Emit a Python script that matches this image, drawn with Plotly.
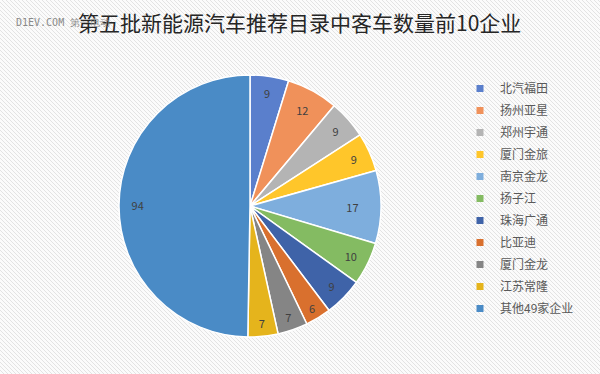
import plotly.graph_objects as go

labels = ["北汽福田", "扬州亚星", "郑州宇通", "厦门金旅", "南京金龙", "扬子江",
          "珠海广通", "比亚迪", "厦门金龙", "江苏常隆", "其他49家企业"]
values = [9, 12, 9, 9, 17, 10, 9, 6, 7, 7, 94]
colors = ["#5a7fcc", "#f0915a", "#b4b4b4", "#ffc62a", "#7eaedd", "#84bb62",
          "#3f63a8", "#d9702e", "#858585", "#e5b41c", "#4a8bc6"]

W, H = 600, 374
NB = "\u00a0"

# label text: the big slice label sits toward the outer edge as in the reference
texts = [str(v) for v in values]
texts[-1] = texts[-1] + NB * 38

fig = go.Figure()
fig.add_trace(go.Pie(
    labels=labels, values=values, sort=False, direction="clockwise", rotation=0,
    marker=dict(colors=colors, line=dict(color="white", width=1.5)),
    text=texts, textinfo="text", textposition="inside", insidetextorientation="horizontal",
    textfont=dict(size=11, color="#404040", family="Noto Sans CJK SC"),
    domain=dict(x=[(250 - 131) / W, (250 + 131) / W], y=[1 - 337 / H, 1 - 75 / H]),
    hoverinfo="label+value", showlegend=False,
))

# legend entries (one per slice, with group gaps to match spacing)
for i, (lab, col) in enumerate(zip(labels, colors)):
    fig.add_trace(go.Scatter(
        x=[None], y=[None], mode="markers", name=lab, legendgroup=f"g{i}",
        marker=dict(symbol="square", size=7, color=col), showlegend=True,
    ))

# diagonal hatch background
segs = []
step = 4
for k in range(-H, W + H, step):
    x0, y0 = k, 0
    x1, y1 = k + H, H
    segs.append(f"M{x0/W:.4f},{1 - y0/H:.4f}L{x1/W:.4f},{1 - y1/H:.4f}")
fig.add_shape(type="path", xref="paper", yref="paper", path="".join(segs),
              line=dict(color="#e3e3e3", width=1), layer="below")

fig.add_annotation(text="第五批新能源汽车推荐目录中客车数量前10企业", x=299 / W, y=1 - 22 / H,
                   xref="paper", yref="paper", showarrow=False, xanchor="center", yanchor="middle",
                   font=dict(size=21, color="#262626", family="Noto Sans CJK SC"))
fig.add_annotation(text="D1EV.COM 第一电动", x=14 / W, y=1 - 22 / H, xref="paper", yref="paper",
                   showarrow=False, xanchor="left", yanchor="middle",
                   font=dict(size=10, color="#8a8a8a", family="DejaVu Sans Mono"))

fig.update_layout(
    width=W, height=H, margin=dict(l=0, r=0, t=0, b=0),
    paper_bgcolor="#fbfbfb", plot_bgcolor="rgba(0,0,0,0)",
    showlegend=True,
    xaxis=dict(visible=False), yaxis=dict(visible=False),
    legend=dict(x=460 / W, y=1 - 74 / H, xanchor="left", yanchor="top",
                font=dict(size=12, color="#595959", family="Noto Sans CJK SC"),
                bgcolor="rgba(0,0,0,0)", itemwidth=30, traceorder="grouped",
                tracegroupgap=3),
)

fig.write_html("out.html")
